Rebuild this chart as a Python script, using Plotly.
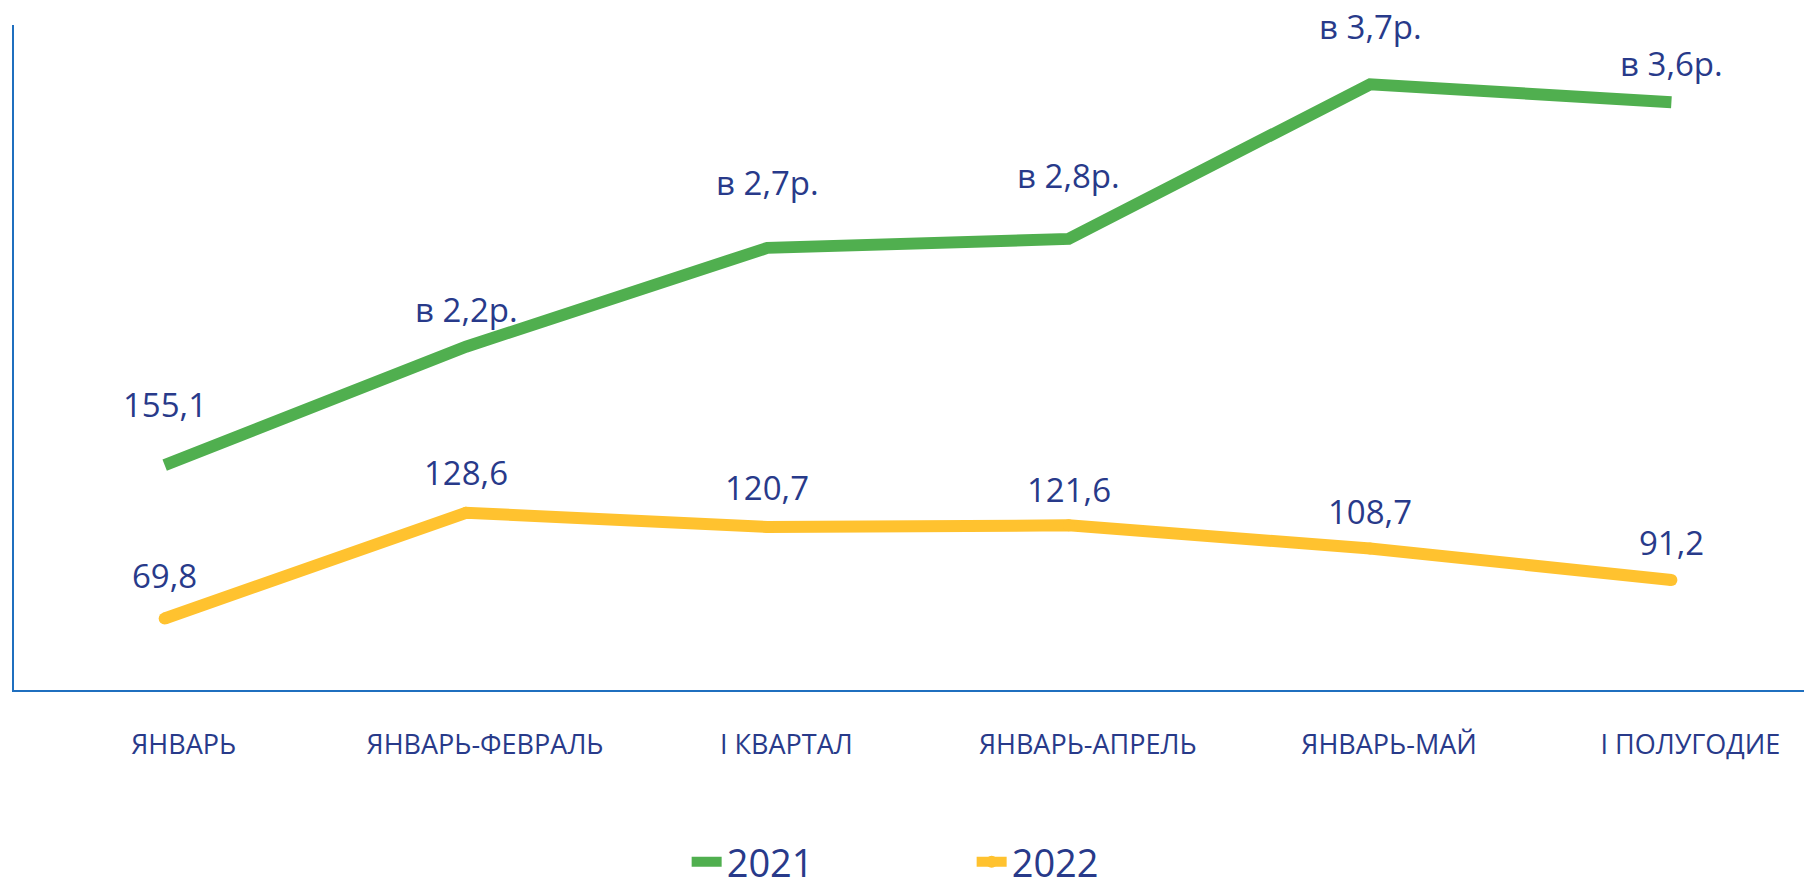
import plotly.graph_objects as go

categories = ["ЯНВАРЬ", "ЯНВАРЬ-ФЕВРАЛЬ", "I КВАРТАЛ", "ЯНВАРЬ-АПРЕЛЬ", "ЯНВАРЬ-МАЙ", "I ПОЛУГОДИЕ"]
values_2021 = [155.1, 221.0, 276.0, 281.0, 367.0, 357.0]
values_2022 = [69.8, 128.6, 120.7, 121.6, 108.7, 91.2]
labels_2021 = ["155,1", "в 2,2р.", "в 2,7р.", "в 2,8р.", "в 3,7р.", "в 3,6р."]
labels_2022 = ["69,8", "128,6", "120,7", "121,6", "108,7", "91,2"]

GREEN = "#50AF4F"
YELLOW = "#FFC22F"
TEXT = "#283A8A"
AXIS = "#1F6FBF"
FONT = "Open Sans"

x_idx = list(range(len(categories)))

fig = go.Figure()
fig.add_trace(go.Scatter(
    x=x_idx, y=values_2021, name="2021", mode="lines",
    line=dict(color=GREEN, width=12),
))
fig.add_trace(go.Scatter(
    x=x_idx, y=values_2022, name="2022", mode="lines+markers",
    line=dict(color=YELLOW, width=12),
    marker=dict(color=YELLOW, size=12),
))

shift_2021 = [61, 37, 65, 63, 58, 39]
shift_2022 = [43, 40, 39, 36, 37, 38]
for i in x_idx:
    fig.add_annotation(x=i, y=values_2021[i], text=labels_2021[i], showarrow=False,
                       yshift=shift_2021[i], font=dict(family=FONT, size=33, color=TEXT))
    fig.add_annotation(x=i, y=values_2022[i], text=labels_2022[i], showarrow=False,
                       yshift=shift_2022[i], font=dict(family=FONT, size=33, color=TEXT))

fig.update_layout(
    width=1804, height=887,
    margin=dict(l=14, r=0, t=25, b=197, autoexpand=False),
    paper_bgcolor="white", plot_bgcolor="white",
    showlegend=True,
    legend=dict(orientation="h", x=0.535, xanchor="center",
                yref="container", y=0.028, yanchor="middle",
                font=dict(family=FONT, size=38, color=TEXT),
                entrywidth=240, itemwidth=30),
    xaxis=dict(
        range=[-0.5, 5.44],
        tickmode="array", tickvals=x_idx, ticktext=categories,
        showgrid=False, zeroline=False,
        showline=True, linecolor=AXIS, linewidth=2,
        ticks="", ticklabelshift=19, ticklabelstandoff=30,
        tickfont=dict(family=FONT, size=27, color=TEXT),
    ),
    yaxis=dict(
        range=[30, 400],
        showgrid=False, zeroline=False,
        showline=True, linecolor=AXIS, linewidth=2,
        showticklabels=False, ticks="",
    ),
)

fig.write_html("out.html")
